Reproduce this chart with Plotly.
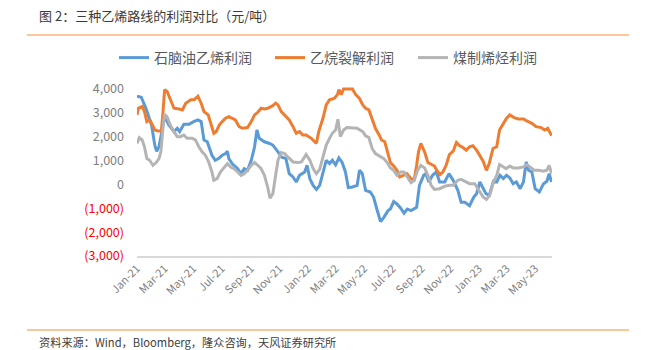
import plotly.graph_objects as go

# ---------------- data ----------------
naphtha_dates = [
    "2021-01-01", "2021-01-10", "2021-01-20", "2021-02-01", "2021-02-08", "2021-02-12", "2021-02-17",
    "2021-02-24", "2021-03-01", "2021-03-10", "2021-03-21", "2021-03-28", "2021-04-02", "2021-04-11",
    "2021-04-22", "2021-05-02", "2021-05-11", "2021-05-18", "2021-05-24", "2021-05-31", "2021-06-10",
    "2021-06-17", "2021-06-24", "2021-07-02", "2021-07-09", "2021-07-13", "2021-07-16", "2021-07-23",
    "2021-08-04", "2021-08-11", "2021-08-18", "2021-08-25", "2021-09-02", "2021-09-09", "2021-09-14",
    "2021-09-19", "2021-09-30", "2021-10-11", "2021-10-18", "2021-10-29", "2021-11-05", "2021-11-15",
    "2021-11-22", "2021-11-30", "2021-12-07", "2021-12-14", "2021-12-25", "2021-12-30", "2022-01-05",
    "2022-01-12", "2022-01-19", "2022-01-26", "2022-02-03", "2022-02-09", "2022-02-16", "2022-02-22",
    "2022-03-01", "2022-03-08", "2022-03-15", "2022-03-22", "2022-03-28", "2022-04-06", "2022-04-16",
    "2022-04-21", "2022-04-27", "2022-05-04", "2022-05-14", "2022-05-21", "2022-05-28", "2022-06-05",
    "2022-06-12", "2022-06-21", "2022-06-26", "2022-07-03", "2022-07-10", "2022-07-18", "2022-07-25",
    "2022-08-01", "2022-08-09", "2022-08-21", "2022-08-27", "2022-09-05", "2022-09-10", "2022-09-16",
    "2022-09-24", "2022-10-02", "2022-10-09", "2022-10-20", "2022-10-29", "2022-11-07", "2022-11-17",
    "2022-11-24", "2022-12-02", "2022-12-12", "2022-12-21", "2022-12-27", "2023-01-03", "2023-01-10",
    "2023-01-16", "2023-01-23", "2023-02-01", "2023-02-08", "2023-02-15", "2023-02-22", "2023-03-01",
    "2023-03-08", "2023-03-15", "2023-03-22", "2023-03-30", "2023-04-06", "2023-04-12", "2023-04-17",
    "2023-04-24", "2023-05-01", "2023-05-10", "2023-05-19", "2023-05-26", "2023-05-31", "2023-06-05",
]
naphtha_profit = [
    3700, 3650, 3190, 2490, 1645, 1390, 1575,
    2350, 2840, 2490, 2210, 2350, 2210, 2520,
    2520, 2630, 2700, 2630, 1855, 1785, 1220,
    1010, 1080, 1220, 1290, 1390, 1080, 870,
    660, 450, 660, 590, 1010, 1575, 2280,
    1930, 1785, 1715, 1645, 1365, 1150, 1080,
    450, 310, 100, 380, 520, 800, 240,
    -40, -210, -40, 520, 1010, 870, 1010,
    820, 1110, 920, 520, -130, -110, -40,
    590, 450, -250, -320, -530, -1030, -1560,
    -1380, -1100, -1030, -720, -820, -1000, -1210,
    -1030, -1100, -960, -40, 380, 450, 100,
    380, 520, 100, 100, 450, 170, -250,
    -750, -750, -890, -530, -390, 100, -180,
    -390, -460, 130, 100, 380, 240, 380,
    270, 30, 100, -180, 100, 940, 590,
    520, -180, -320, 30, 130, 450, 100,
]

ethane_dates = [
    "2021-01-01", "2021-01-04", "2021-01-12", "2021-01-17", "2021-01-22", "2021-01-28", "2021-02-03",
    "2021-02-08", "2021-02-15", "2021-02-22", "2021-02-25", "2021-03-01", "2021-03-06", "2021-03-13",
    "2021-03-21", "2021-04-01", "2021-04-08", "2021-04-15", "2021-04-26", "2021-05-03", "2021-05-11",
    "2021-05-18", "2021-05-24", "2021-06-02", "2021-06-09", "2021-06-14", "2021-06-19", "2021-06-26",
    "2021-07-02", "2021-07-09", "2021-07-16", "2021-07-23", "2021-07-30", "2021-08-07", "2021-08-14",
    "2021-08-25", "2021-09-02", "2021-09-09", "2021-09-16", "2021-09-23", "2021-09-30", "2021-10-07",
    "2021-10-18", "2021-10-24", "2021-10-29", "2021-11-05", "2021-11-15", "2021-11-22", "2021-11-30",
    "2021-12-07", "2021-12-14", "2021-12-21", "2021-12-28", "2022-01-08", "2022-01-15", "2022-01-19",
    "2022-01-24", "2022-02-02", "2022-02-09", "2022-02-16", "2022-02-26", "2022-03-05", "2022-03-08",
    "2022-03-13", "2022-03-18", "2022-03-29", "2022-04-06", "2022-04-13", "2022-04-21", "2022-04-28",
    "2022-05-04", "2022-05-11", "2022-05-17", "2022-05-25", "2022-06-02", "2022-06-07", "2022-06-14",
    "2022-06-21", "2022-06-26", "2022-07-03", "2022-07-10", "2022-07-16", "2022-07-22", "2022-07-31",
    "2022-08-09", "2022-08-16", "2022-08-21", "2022-08-25", "2022-08-30", "2022-09-07", "2022-09-14",
    "2022-09-21", "2022-09-28", "2022-10-03", "2022-10-10", "2022-10-16", "2022-10-23", "2022-10-30",
    "2022-11-07", "2022-11-14", "2022-11-21", "2022-11-28", "2022-12-05", "2022-12-12", "2022-12-19",
    "2022-12-27", "2023-01-03", "2023-01-10", "2023-01-17", "2023-01-23", "2023-01-31", "2023-02-08",
    "2023-02-14", "2023-02-22", "2023-03-01", "2023-03-08", "2023-03-17", "2023-03-26", "2023-04-06",
    "2023-04-13", "2023-04-24", "2023-05-03", "2023-05-14", "2023-05-21", "2023-05-28", "2023-06-05",
]
ethane_profit = [
    2910, 3190, 3260, 3050, 2630, 2700, 2490,
    2280, 2240, 2240, 2910, 3970, 3900, 3545,
    3190, 3160, 3120, 3400, 3545, 3545, 3690,
    3400, 3050, 2910, 2490, 2140, 2210, 2490,
    2630, 2770, 2840, 2770, 2700, 2420, 2350,
    2380, 2630, 2910, 3020, 3190, 3160, 3190,
    3300, 3400, 3330, 3050, 2840, 2700, 2420,
    2140, 2210, 2070, 2070, 1930, 1790, 1720,
    2210, 2770, 3330, 3545, 3600, 3760, 3970,
    3760, 4000, 4000, 4000, 3760, 3600, 3330,
    3190, 3120, 2770, 2350, 2070, 1860, 1785,
    1220, 915, 770, 590, 310, 380, 450,
    240, 210, 800, 1360, 1715, 1360, 915,
    840, 770, 590, 410, 520, 800, 1250,
    1390, 1760, 1620, 1545, 1435, 1575, 1620,
    1435, 1220, 970, 590, 870, 1505, 1575,
    2280, 2560, 2770, 2910, 2800, 2740, 2740,
    2660, 2560, 2420, 2380, 2280, 2350, 2040,
]

coal_dates = [
    "2021-01-01", "2021-01-06", "2021-01-12", "2021-01-17", "2021-01-22", "2021-01-28", "2021-02-04",
    "2021-02-11", "2021-02-17", "2021-02-21", "2021-02-26", "2021-03-01", "2021-03-06", "2021-03-13",
    "2021-03-21", "2021-03-28", "2021-04-04", "2021-04-11", "2021-04-18", "2021-04-29", "2021-05-06",
    "2021-05-13", "2021-05-20", "2021-05-27", "2021-06-03", "2021-06-10", "2021-06-14", "2021-06-21",
    "2021-06-28", "2021-07-06", "2021-07-13", "2021-07-20", "2021-07-27", "2021-08-04", "2021-08-11",
    "2021-08-18", "2021-08-25", "2021-09-02", "2021-09-09", "2021-09-16", "2021-09-23", "2021-09-30",
    "2021-10-07", "2021-10-12", "2021-10-18", "2021-10-24", "2021-10-29", "2021-11-05", "2021-11-12",
    "2021-11-19", "2021-11-30", "2021-12-11", "2021-12-18", "2021-12-28", "2022-01-05", "2022-01-12",
    "2022-01-19", "2022-01-26", "2022-02-03", "2022-02-09", "2022-02-16", "2022-02-22", "2022-03-01",
    "2022-03-06", "2022-03-11", "2022-03-18", "2022-03-25", "2022-04-06", "2022-04-16", "2022-04-28",
    "2022-05-04", "2022-05-11", "2022-05-18", "2022-05-25", "2022-06-05", "2022-06-12", "2022-06-19",
    "2022-06-26", "2022-07-03", "2022-07-10", "2022-07-18", "2022-07-25", "2022-08-01", "2022-08-09",
    "2022-08-16", "2022-08-23", "2022-08-30", "2022-09-07", "2022-09-14", "2022-09-21", "2022-09-28",
    "2022-10-09", "2022-10-20", "2022-10-30", "2022-11-07", "2022-11-17", "2022-11-24", "2022-12-05",
    "2022-12-12", "2022-12-23", "2022-12-30", "2023-01-10", "2023-01-17", "2023-01-24", "2023-02-01",
    "2023-02-08", "2023-02-14", "2023-02-21", "2023-02-28", "2023-03-08", "2023-03-15", "2023-03-26",
    "2023-04-06", "2023-04-13", "2023-04-20", "2023-04-29", "2023-05-08", "2023-05-19", "2023-05-26",
    "2023-05-31", "2023-06-05",
]
coal_profit = [
    1715, 1955, 1860, 1575, 1085, 1010, 800,
    915, 1085, 1365, 2490, 2940, 2840, 2490,
    2210, 2000, 2000, 2070, 1930, 1930, 1860,
    1575, 1365, 1220, 940, 520, 170, 240,
    520, 730, 870, 730, 660, 520, 380,
    450, 590, 800, 915, 800, 660, 380,
    -110, -580, -390, 380, 1010, 1335, 1290,
    1150, 940, 915, 940, 1250, 1010, 660,
    450, 630, 1150, 1645, 1930, 2140, 2280,
    2730, 2000, 2280, 2380, 2350, 2350, 2210,
    2030, 1960, 1505, 1290, 1150, 1080, 915,
    690, 590, 380, 520, 520, 310, 70,
    170, 590, 800, 690, 380, -40, -210,
    -180, -80, -40, -40, 170, 210, 100,
    30, 30, -180, -530, -630, -460, 100,
    380, 830, 730, 660, 770, 690, 690,
    730, 830, 730, 590, 590, 550, 590,
    800, 450,
]

series_names = ["石脑油乙烯利润", "乙烷裂解利润", "煤制烯烃利润"]
series_colors = ["#5B9BD5", "#ED7D31", "#B4B4B4"]

y_tick_values = [4000, 3000, 2000, 1000, 0, -1000, -2000, -3000]
y_tick_labels = ["4,000", "3,000", "2,000", "1,000", "0", "(1,000)", "(2,000)", "(3,000)"]

title_text = "图 2：三种乙烯路线的利润对比（元/吨）"
source_text = "资料来源：Wind，Bloomberg，隆众咨询，天风证券研究所"

# ---------------- figure ----------------
W, H = 650, 350
ML, MR, MT, MB = 137, 98, 87, 94
PW, PH = W - ML - MR, H - MT - MB
FONT = "Noto Sans CJK SC, Noto Sans, sans-serif"

legend_ids = ["legend", "legend2", "legend3"]
legend_left_px = [114, 270, 413]

fig = go.Figure()
for name, lid, color, xs, ys in zip(
    series_names, legend_ids, series_colors,
    [naphtha_dates, ethane_dates, coal_dates],
    [naphtha_profit, ethane_profit, coal_profit],
):
    fig.add_trace(go.Scatter(
        x=xs, y=ys, name=name, mode="lines", legend=lid,
        line=dict(color=color, width=3, shape="linear"),
        hoverinfo="skip",
    ))

tick_text_colored = [
    (f"<span style='color:#FF0000'>{t}</span>" if v < 0 else t)
    for v, t in zip(y_tick_values, y_tick_labels)
]

legend_style = {}
for lid, lx in zip(legend_ids, legend_left_px):
    legend_style[lid] = dict(
        orientation="h",
        xref="container", yref="container",
        x=lx / W, y=1 - 58 / H, xanchor="left", yanchor="middle",
        font=dict(size=14, color="#595959", family=FONT),
        itemwidth=30,
        bgcolor="rgba(0,0,0,0)",
    )

fig.update_layout(
    width=W, height=H,
    margin=dict(l=ML, r=MR, t=MT, b=MB, pad=0, autoexpand=False),
    paper_bgcolor="white", plot_bgcolor="white",
    font=dict(family=FONT, color="#7F7F7F"),
    showlegend=True,
    xaxis=dict(
        type="date",
        range=["2021-01-01", "2023-06-06"],
        tick0="2021-01-01", dtick="M2",
        tickformat="%b-%y",
        tickangle=-45,
        tickfont=dict(size=11, color="#7F7F7F"),
        showgrid=False, zeroline=False,
        showline=True, linecolor="#D9D9D9", linewidth=1.5,
        ticks="", fixedrange=True,
    ),
    yaxis=dict(
        range=[-3000, 4080],
        tickmode="array", tickvals=y_tick_values, ticktext=tick_text_colored,
        tickfont=dict(size=12.5, color="#7F7F7F"),
        showgrid=False, zeroline=False, showline=False,
        ticks="", ticklen=0, fixedrange=True,
    ),
    **legend_style,
)
fig.update_yaxes(ticklabelstandoff=12)

# title and source
fig.add_annotation(
    text=title_text, xref="paper", yref="paper",
    x=(37 - ML) / PW, y=1 + (MT - 15) / PH,
    xanchor="left", yanchor="middle", showarrow=False,
    font=dict(size=13, color="#3A3A3A", family=FONT),
)
fig.add_annotation(
    text=source_text, xref="paper", yref="paper",
    x=(37 - ML) / PW, y=-(342 - (H - MB)) / PH,
    xanchor="left", yanchor="middle", showarrow=False,
    font=dict(size=11.2, color="#404040", family=FONT),
)
# orange separator lines
for ypx in (35, 330):
    fig.add_shape(
        type="line", xref="paper", yref="paper",
        x0=(27 - ML) / PW, x1=(629 - ML) / PW,
        y0=1 - (ypx - MT) / PH, y1=1 - (ypx - MT) / PH,
        line=dict(color="#F8B47A", width=1.5),
    )

fig.write_html("out.html")
